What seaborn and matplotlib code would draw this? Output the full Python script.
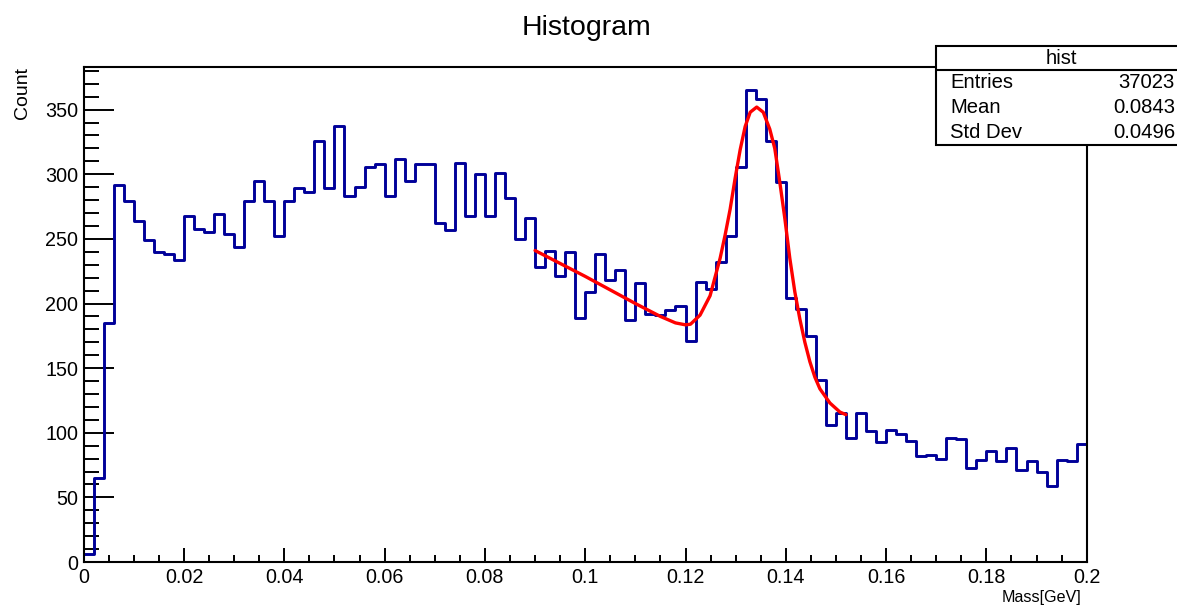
import numpy as np
import pandas as pd
import seaborn as sns
import matplotlib.pyplot as plt
from matplotlib.patches import Rectangle
from matplotlib.ticker import MultipleLocator, FuncFormatter

# histogram range and bin contents
x_min, x_max, n_bins = 0.0, 0.2, 100
counts = [
    6, 65, 185, 292, 279, 264, 249, 240, 238, 234,
    268, 258, 255, 269, 254, 244, 279, 295, 279, 252,
    279, 289, 286, 326, 289, 337, 283, 290, 306, 308,
    283, 312, 295, 308, 308, 262, 257, 309, 268, 300,
    268, 301, 282, 250, 266, 228, 241, 221, 240, 189,
    209, 238, 218, 226, 187, 216, 192, 191, 195, 198,
    171, 217, 211, 232, 252, 306, 365, 358, 326, 294,
    204, 196, 175, 141, 106, 115, 96, 115, 101, 93,
    102, 99, 94, 82, 83, 80, 96, 95, 73, 79,
    86, 78, 88, 71, 78, 70, 59, 79, 78, 91,
]

# fit curve (pol1 + gaus)
fit_x = [0.0900, 0.1000, 0.1100, 0.1150, 0.1180, 0.1200, 0.1210, 0.1229,
         0.1249, 0.1269, 0.1279, 0.1289, 0.1299, 0.1309, 0.1319, 0.1329,
         0.1342, 0.1355, 0.1368, 0.1378, 0.1388, 0.1398, 0.1408, 0.1418,
         0.1428, 0.1438, 0.1448, 0.1458, 0.1468, 0.1488, 0.1508, 0.1520]
fit_y = [241, 221, 200, 190, 185, 183.5, 184, 191,
         206, 235, 253, 273, 297, 319, 337, 348,
         352, 348, 335, 320, 294, 266, 235, 209,
         188, 170, 155, 143, 134, 123, 116, 114]

stats_name = "hist"
stats_rows = ["Entries", "Mean", "Std Dev"]
stats_vals = ["37023", "0.0843", "0.0496"]

edges = np.linspace(x_min, x_max, n_bins + 1)
df = pd.DataFrame({"mass": (edges[:-1] + edges[1:]) / 2, "count": counts})

sns.set_style("white")
plt.rcParams["font.family"] = ["Liberation Sans", "DejaVu Sans"]
plt.rcParams["text.color"] = "black"
plt.rcParams["axes.labelcolor"] = "black"
plt.rcParams["xtick.color"] = "black"
plt.rcParams["ytick.color"] = "black"

fig = plt.figure(figsize=(11.77, 6.09), dpi=100)
ax = fig.add_axes([83.7 / 1177, 47 / 609, 1003 / 1177, 495 / 609])

sns.histplot(data=df, x="mass", weights="count", bins=n_bins,
             binrange=(x_min, x_max), element="step", fill=False,
             color="#000099", linewidth=2.1, ax=ax)
sns.lineplot(x=fit_x, y=fit_y, color="red", linewidth=2.4, ax=ax)

ax.set_xlim(x_min, x_max)
ax.set_ylim(0, 383)

for s in ax.spines.values():
    s.set_visible(True)
    s.set_color("black")
    s.set_linewidth(1.5)

ax.xaxis.set_major_locator(MultipleLocator(0.02))
ax.xaxis.set_minor_locator(MultipleLocator(0.005))
ax.yaxis.set_major_locator(MultipleLocator(50))
ax.yaxis.set_minor_locator(MultipleLocator(10))
ax.xaxis.set_major_formatter(FuncFormatter(lambda v, p: "%g" % round(v, 4)))

ax.tick_params(axis="both", which="both", direction="in", color="black",
               labelcolor="black", width=1.4, labelsize=14.2, top=False,
               right=False, bottom=True, left=True)
ax.tick_params(axis="x", which="major", length=10, pad=4.5)
ax.tick_params(axis="x", which="minor", length=5)
ax.tick_params(axis="y", which="major", length=21.5, pad=4)
ax.tick_params(axis="y", which="minor", length=10.8)

ax.set_xlabel("Mass[GeV]", fontsize=11.6, loc="right")
ax.xaxis.set_label_coords(0.9945, -0.056)
ax.set_ylabel("Count", fontsize=14, loc="top")
ax.yaxis.set_label_coords(-0.053, 1.0)

fig.suptitle("Histogram", x=586.7 / 1177, y=(609 - 35) / 609,
             va="baseline", fontsize=20.5)

# stats box (top right, running off the canvas like the original)
bx0, bx1 = 936 / 1177, 1190 / 1177
by0, by1, bsep = (609 - 145) / 609, (609 - 46) / 609, (609 - 70) / 609
fig.patches.append(Rectangle((bx0, by0), bx1 - bx0, by1 - by0,
                             transform=fig.transFigure, facecolor="white",
                             edgecolor="black", linewidth=1.5, zorder=5))
fig.lines.append(plt.Line2D([bx0, bx1], [bsep, bsep], transform=fig.transFigure,
                            color="black", linewidth=1.5, zorder=6))
fig.text(1061 / 1177, (609 - 59) / 609, stats_name, ha="center", va="center",
         fontsize=14.6, zorder=7)
for i, (lab, val) in enumerate(zip(stats_rows, stats_vals)):
    yy = (609 - (83 + 24.5 * i)) / 609
    fig.text(950 / 1177, yy, lab, ha="left", va="center", fontsize=14.6, zorder=7)
    fig.text(1175 / 1177, yy, val, ha="right", va="center", fontsize=14.6, zorder=7)

fig.savefig("out.png", dpi=100, facecolor="white")
